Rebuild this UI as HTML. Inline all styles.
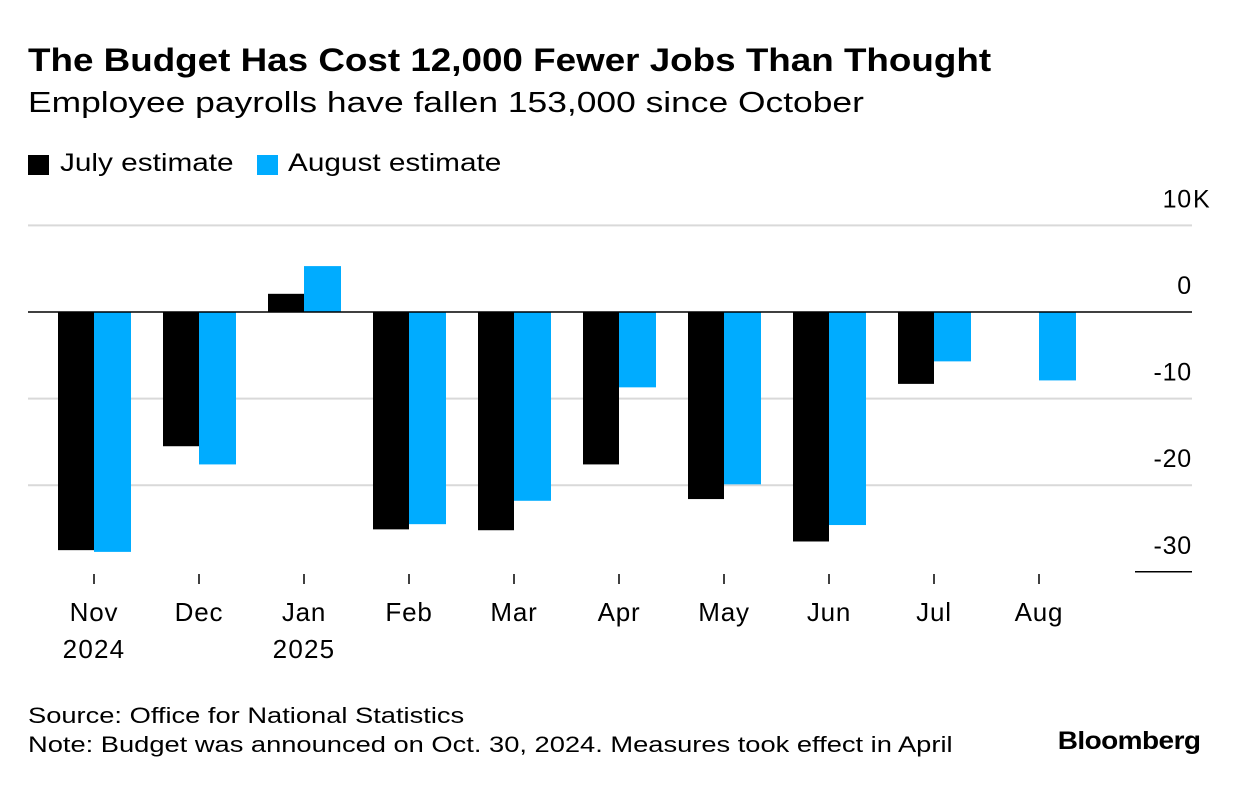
<!DOCTYPE html>
<html><head><meta charset="utf-8"><style>
html,body{margin:0;padding:0;background:#fff;}
body{width:1240px;height:786px;position:relative;font-family:"Liberation Sans",Arial,sans-serif;color:#000;overflow:hidden;}
.t{position:absolute;white-space:nowrap;transform-origin:0 0;}
</style></head><body>
<div class="t" style="left:28px;top:42px;font-size:32px;font-weight:bold;transform:scaleX(1.15);">The Budget Has Cost 12,000 Fewer Jobs Than Thought</div>
<div class="t" style="left:28px;top:87px;font-size:29px;transform:scaleX(1.22);">Employee payrolls have fallen 153,000 since October</div>
<div>
<div style="position:absolute;left:28px;top:155px;width:21px;height:20px;background:#000"></div>
<div class="t" style="left:60px;top:149px;font-size:25px;transform:scaleX(1.19);">July estimate</div>
<div style="position:absolute;left:257px;top:155px;width:21px;height:20px;background:#00acff"></div>
<div class="t" style="left:288px;top:149px;font-size:25px;transform:scaleX(1.19);">August estimate</div>
</div>
<svg id="chart" width="1240" height="786" style="position:absolute;left:0;top:0"></svg>
<div class="t" style="left:28px;top:703px;font-size:22px;transform:scaleX(1.24);">Source: Office for National Statistics</div>
<div class="t" style="left:28px;top:732px;font-size:22px;transform:scaleX(1.24);">Note: Budget was announced on Oct. 30, 2024. Measures took effect in April</div>
<div class="t" style="right:40px;top:727px;font-size:25px;font-weight:bold;letter-spacing:-0.5px;transform-origin:100% 0;transform:scaleX(1.12);">Bloomberg</div>
<script>
const categories=["Nov","Dec","Jan","Feb","Mar","Apr","May","Jun","Jul","Aug"];
const yearLabels=["2024","","2025","","","","","","",""];
const julyValues=[-27.5,-15.5,2.1,-25.1,-25.2,-17.6,-21.6,-26.5,-8.3,null];
const augustValues=[-27.7,-17.6,5.3,-24.5,-21.8,-8.7,-19.9,-24.6,-5.7,-7.9];
const tickValues=[10,0,-10,-20,-30];
const tickLabels=["10","0","-10","-20","-30"];
const svg=document.getElementById('chart');
const NS='http://www.w3.org/2000/svg';
const x0=28,x1=1192,zeroY=312,pxPerUnit=8.66;
const y=v=>zeroY-v*pxPerUnit;
const xc=i=>94+i*105;
const FONT='Liberation Sans, sans-serif';
function mk(tag,attrs){const e=document.createElementNS(NS,tag);for(const k in attrs)e.setAttribute(k,attrs[k]);svg.appendChild(e);return e;}
tickValues.forEach((v,i)=>{
  if(v!==0&&v!==-30){const g=mk('line',{x1:x0,x2:x1,y1:y(v),y2:y(v),stroke:'#d9d9d9','stroke-width':2});
  
  }
  const t=mk('text',{x:x1,y:y(v)-18,'text-anchor':'end','font-size':25,'font-family':FONT,'letter-spacing':0.8});
  t.textContent=tickLabels[i];
  
  
  if(i===0){const k=mk('text',{x:x1+1,y:y(v)-18,'font-size':25,'font-family':FONT});
  k.textContent='K';
  
  }
});
const bl=mk('line',{x1:1135,x2:x1,y1:y(-30),y2:y(-30),stroke:'#000','stroke-width':1.5});


const bw=36;
categories.forEach((c,i)=>{
  const jv=julyValues[i],av=augustValues[i];
  if(jv!==null){const r=mk('rect',{x:xc(i)-bw,y:Math.min(y(jv),zeroY),width:bw,height:Math.abs(y(jv)-zeroY),fill:'#000'});
  
  }
  if(av!==null){const r=mk('rect',{x:xc(i),y:Math.min(y(av),zeroY),width:bw+1,height:Math.abs(y(av)-zeroY),fill:'#00acff'});
  
  }
  const tk=mk('line',{x1:xc(i),x2:xc(i),y1:574,y2:584,stroke:'#000','stroke-width':1.5});
  
  
  const t=mk('text',{x:xc(i),y:621,'text-anchor':'middle','font-size':26,'font-family':FONT,'letter-spacing':0.8});
  t.textContent=c;
  
  
  if(yearLabels[i]){const yt=mk('text',{x:xc(i),y:658,'text-anchor':'middle','font-size':26,'font-family':FONT,'letter-spacing':1.2});
  yt.textContent=yearLabels[i];
  
  }
});
const zl=mk('line',{x1:x0,x2:x1,y1:zeroY,y2:zeroY,stroke:'#000','stroke-width':1.5});


</script>
</body></html>
